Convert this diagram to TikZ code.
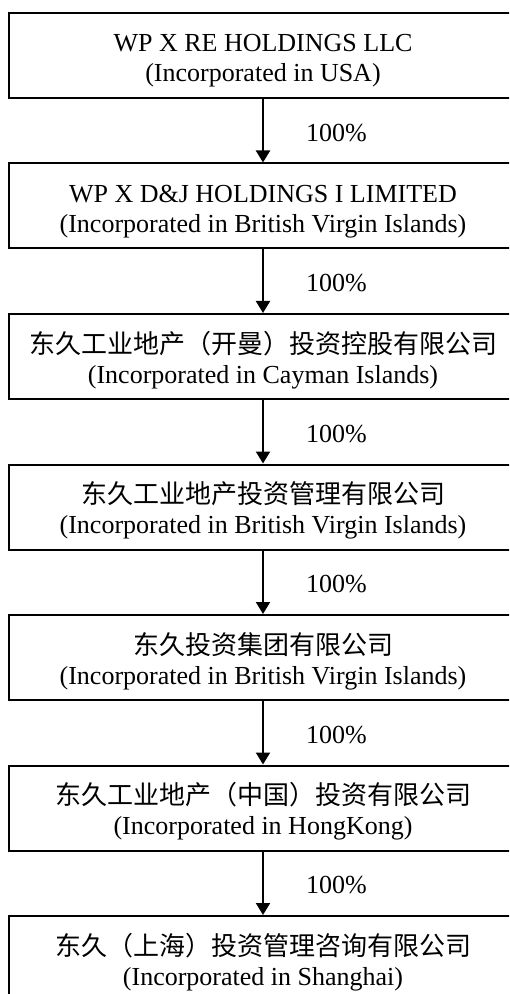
\documentclass[tikz,border=0pt]{standalone}
\usepackage{fontspec}
\setmainfont{Liberation Serif}
\newfontfamily\cjk{Noto Sans CJK SC}
\usetikzlibrary{positioning,arrows.meta}

\begin{document}
\begin{tikzpicture}[
  company/.style={draw, line width=1pt, inner sep=0pt, minimum width=254pt,
    text height=34.5pt, text depth=8pt, align=center,
    font=\fontsize{13}{15}\selectfont},
  arr/.style={line width=1pt, -{Triangle[width=7pt,length=6pt]}},
  pct/.style={right=21pt, inner sep=0pt, yshift=-1pt, font=\fontsize{13}{15}\selectfont}
]
  \useasboundingbox (0,0) rectangle (254.5pt,-497pt);
  \clip (0,0) rectangle (254.5pt,-497pt);
  % các công ty
  \node[company, anchor=north] (c1) at (131.5pt,-6pt)
    {WP X RE HOLDINGS LLC\\(Incorporated in USA)};
  \node[company, below=31.75pt of c1] (c2)
    {WP X D\&J HOLDINGS I LIMITED\\(Incorporated in British Virgin Islands)};
  \node[company, below=31.75pt of c2] (c3)
    {{\cjk 东久工业地产（开曼）投资控股有限公司}\\(Incorporated in Cayman Islands)};
  \node[company, below=31.75pt of c3] (c4)
    {{\cjk 东久工业地产投资管理有限公司}\\(Incorporated in British Virgin Islands)};
  \node[company, below=31.75pt of c4] (c5)
    {{\cjk 东久投资集团有限公司}\\(Incorporated in British Virgin Islands)};
  \node[company, below=31.75pt of c5] (c6)
    {{\cjk 东久工业地产（中国）投资有限公司}\\(Incorporated in HongKong)};
  \node[company, below=31.75pt of c6] (c7)
    {{\cjk 东久（上海）投资管理咨询有限公司}\\(Incorporated in Shanghai)};
  % mũi tên
  \foreach \a/\b in {c1/c2,c2/c3,c3/c4,c4/c5,c5/c6,c6/c7}
    \draw[arr] (\a) -- node[pct] {100\%} (\b);
\end{tikzpicture}
\end{document}
